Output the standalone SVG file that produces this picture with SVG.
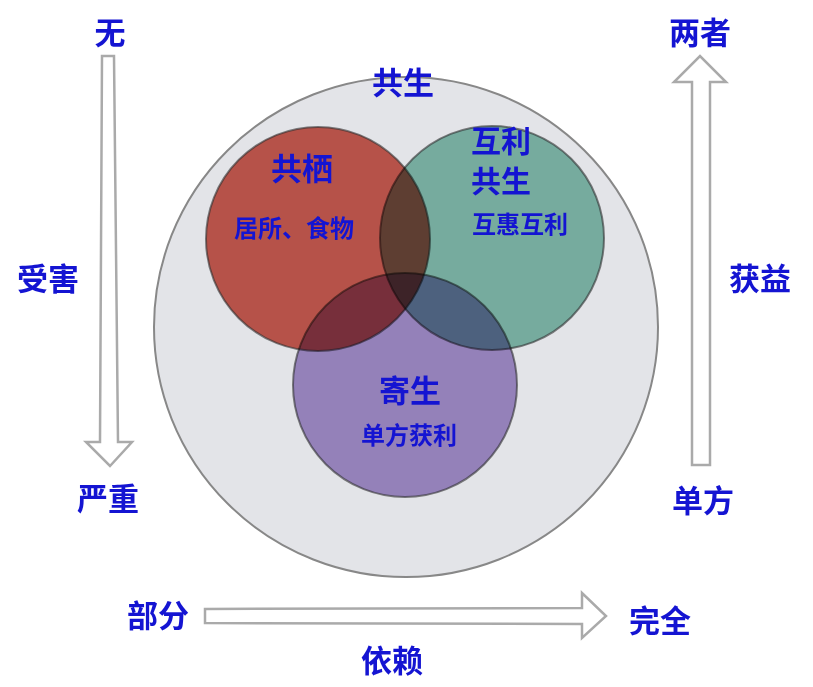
<svg xmlns="http://www.w3.org/2000/svg" width="813" height="687" viewBox="0 0 813 687">
<style>
text{font-family:"Noto Sans CJK SC","Liberation Sans",sans-serif;fill:#1414d2;text-anchor:middle;font-weight:bold}
.b{font-size:31px}.g{font-size:30px}.s{font-size:24px}
.arr{fill:#fff;stroke:#aaa;stroke-width:2.5}
.c{stroke:#333;stroke-opacity:.6;stroke-width:2;mix-blend-mode:multiply}
</style>
<rect width="813" height="687" fill="#fff"/>
<g id="outer"><ellipse cx="406" cy="327" rx="252" ry="250" fill="#e3e4e8" stroke="#888" stroke-width="2"/><text class="b" x="403" y="94">共生</text></g>
<g id="red"><circle class="c" cx="318" cy="239" r="112" fill="#cd5c50"/></g>
<g id="green"><circle class="c" cx="492" cy="238" r="112" fill="#84bfae"/></g>
<g id="purple"><circle class="c" cx="405" cy="385" r="112" fill="#a690cc"/></g>
<g id="circle-labels">
<text class="b" x="302" y="180">共栖</text><text class="s" x="294" y="237">居所、食物</text>
<text class="g" x="501" y="152">互利</text><text class="g" x="501" y="192">共生</text><text class="s" x="520" y="233">互惠互利</text>
<text class="b" x="410" y="402">寄生</text><text class="s" x="409" y="444">单方获利</text>
</g>
<g id="connectors">
<polygon class="arr" points="102,56 114,56 118,442 132,442 110,466 86,442 100,442"/>
<polygon class="arr" points="692,465 710,465 710,82 726,82 700,56 674,82 692,82"/>
<polygon class="arr" points="205,609 582,608 582,593 606,616 582,638 582,624 205,623"/>
</g>
<g id="labels">
<text class="b" x="110" y="44">无</text>
<text class="b" x="48" y="290">受害</text>
<text class="b" x="108" y="510">严重</text>
<text class="b" x="700" y="44">两者</text>
<text class="b" x="760" y="290">获益</text>
<text class="b" x="703" y="512">单方</text>
<text class="b" x="158" y="627">部分</text>
<text class="b" x="660" y="632">完全</text>
<text class="b" x="392" y="672">依赖</text>
</g>
</svg>
